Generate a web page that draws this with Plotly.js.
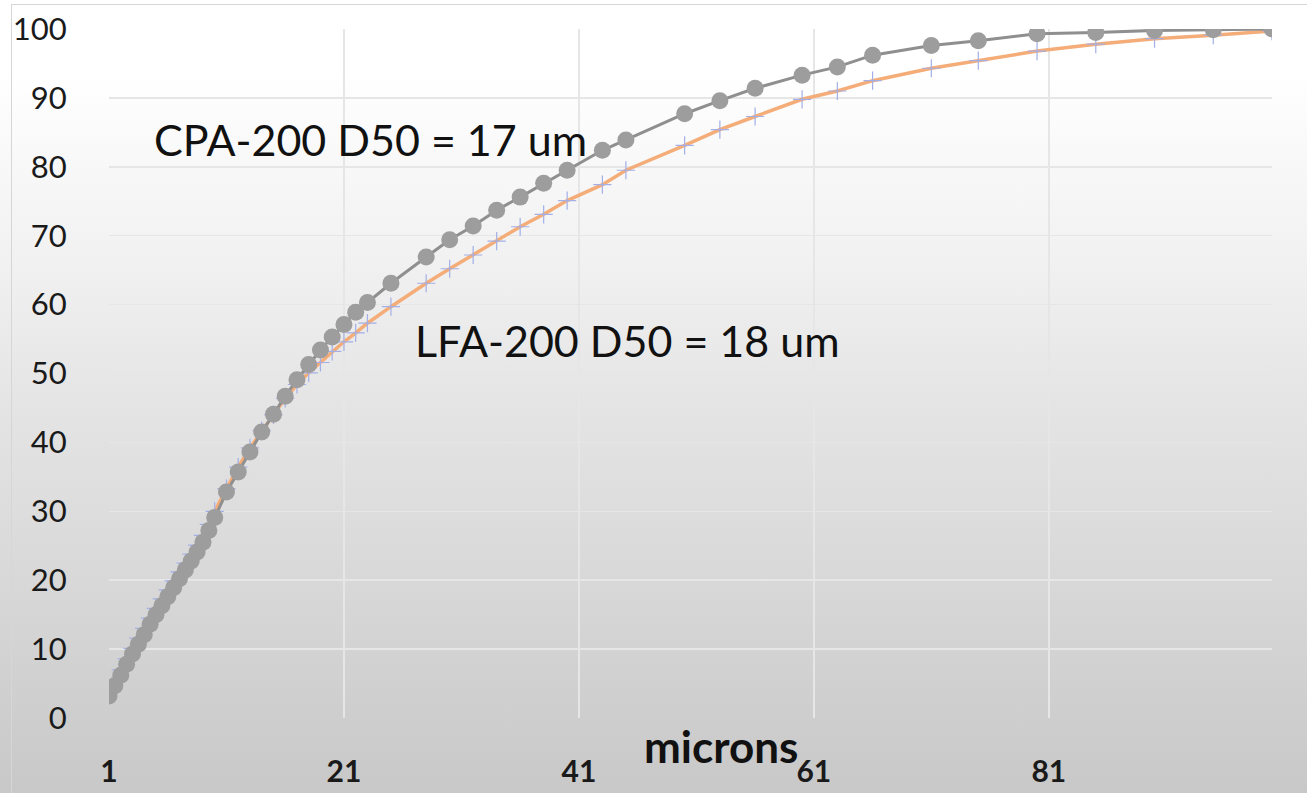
<!DOCTYPE html>
<html>
<head>
<meta charset="utf-8">
<script src="https://cdn.plot.ly/plotly-3.0.1.min.js"></script>
<style>
  html, body { margin: 0; padding: 0; }
  body {
    width: 1307px; height: 793px; overflow: hidden; position: relative;
    background: linear-gradient(to bottom, #ffffff 0%, #ffffff 9%, #f1f1f1 33%, #e5e5e5 50%, #d7d7d7 75%, #c8c8c8 100%);
  }
  #chart { position: absolute; left: 0; top: 0; width: 1307px; height: 793px; }
  #frame {
    position: absolute; left: 11px; top: 4px; right: -2px; bottom: -2px;
    border-left: 1px solid #d6d6d6; border-top: 1px solid #d6d6d6;
    pointer-events: none;
  }
</style>
</head>
<body>
<div id="chart"></div>
<div id="frame"></div>
<script>
// Particle size (microns) at which the cumulative percentage was measured
const sizes = [1, 1.5, 2, 2.5, 3, 3.5, 4, 4.5, 5, 5.5, 6, 6.5, 7, 7.5, 8, 8.5, 9, 9.5, 10,
  11, 12, 13, 14, 15, 16, 17, 18, 19, 20, 21, 22, 23,
  25, 28, 30, 32, 34, 36, 38, 40, 43, 45, 50, 53, 56, 60, 63, 66, 71, 75, 80, 85, 90, 95, 100];

// Cumulative % passing, CPA-200
const cpa200 = [3.2, 4.7, 6.2, 7.8, 9.3, 10.7, 12.1, 13.6, 15.0, 16.3, 17.6, 18.9, 20.2, 21.5, 22.8, 24.1, 25.5, 27.2, 29.1,
  32.8, 35.7, 38.6, 41.5, 44.1, 46.7, 49.1, 51.3, 53.4, 55.3, 57.1, 58.9, 60.3,
  63.1, 66.9, 69.4, 71.4, 73.7, 75.6, 77.6, 79.5, 82.4, 83.9, 87.7, 89.6, 91.4, 93.3, 94.5, 96.2, 97.6, 98.3, 99.3, 99.5, 99.8, 99.9, 100];

// Cumulative % passing, LFA-200
const lfa200 = [3.8, 5.4, 7.0, 8.6, 10.1, 11.6, 13.0, 14.5, 15.9, 17.3, 18.6, 19.9, 21.2, 22.5, 23.8, 25.1, 26.5, 28.1, 30.0,
  33.3, 36.4, 39.2, 41.7, 44.0, 46.4, 48.4, 50.1, 51.6, 53.2, 54.6, 55.9, 57.3,
  59.7, 63.1, 65.2, 67.2, 69.2, 71.3, 73.1, 75.1, 77.4, 79.5, 83.1, 85.4, 87.3, 89.8, 91.0, 92.5, 94.3, 95.4, 96.8, 97.8, 98.6, 99.1, 99.7];

const xTicks = [1, 21, 41, 61, 81];
const yTicks = [0, 10, 20, 30, 40, 50, 60, 70, 80, 90, 100];

const labelFont = 'Lato, "Open Sans", sans-serif';

const traces = [
  {
    name: 'LFA-200', x: sizes, y: lfa200, type: 'scatter', mode: 'lines+markers',
    line: { color: '#f4ac78', width: 3.5 },
    marker: { symbol: 'cross-thin', size: 13, line: { color: '#a3afe6', width: 1.2 } },
    hoverinfo: 'x+y'
  },
  {
    name: 'CPA-200', x: sizes, y: cpa200, type: 'scatter', mode: 'lines+markers',
    line: { color: '#8f8f8f', width: 3 },
    marker: { symbol: 'circle', size: 17, color: '#9d9d9d' },
    hoverinfo: 'x+y'
  }
];

const layout = {
  width: 1307, height: 793,
  margin: { l: 108.5, r: 34.5, t: 29, b: 75, pad: 0 },
  paper_bgcolor: 'rgba(0,0,0,0)',
  plot_bgcolor: 'rgba(0,0,0,0)',
  showlegend: false,
  font: { family: labelFont, color: '#1a1a1a' },
  xaxis: {
    range: [1, 100], tickvals: xTicks, ticktext: xTicks.map(String),
    showgrid: true, gridcolor: '#e6e6e6', gridwidth: 1.5,
    zeroline: false, showline: false,
    ticks: 'outside', ticklen: 27, tickcolor: 'rgba(0,0,0,0)',
    tickfont: { family: labelFont, size: 30, weight: 'bold', color: '#1a1a1a' }
  },
  yaxis: {
    range: [0, 100], tickvals: yTicks,
    showgrid: true, gridcolor: '#e6e6e6', gridwidth: 1.5,
    zeroline: false, showline: false,
    ticks: 'outside', ticklen: 35, tickcolor: 'rgba(0,0,0,0)',
    tickfont: { family: labelFont, size: 31, color: '#1a1a1a' }
  },
  annotations: [
    {
      text: 'CPA-200 D50 = 17 um', xref: 'paper', yref: 'paper',
      x: (370 - 108.5) / 1164, y: (718 - 140) / 689, xanchor: 'center', yanchor: 'middle',
      showarrow: false, font: { family: labelFont, size: 43, color: '#111111' }
    },
    {
      text: 'LFA-200 D50 = 18 um', xref: 'paper', yref: 'paper',
      x: (627 - 108.5) / 1164, y: (718 - 340) / 689, xanchor: 'center', yanchor: 'middle',
      showarrow: false, font: { family: labelFont, size: 43, color: '#111111' }
    },
    {
      text: 'microns', xref: 'paper', yref: 'paper',
      x: (721 - 108.5) / 1164, y: (718 - 746) / 689, xanchor: 'center', yanchor: 'middle',
      showarrow: false, font: { family: labelFont, size: 44, weight: 'bold', color: '#111111' }
    }
  ]
};

Plotly.newPlot('chart', traces, layout, { displayModeBar: false, staticPlot: true });
</script>
</body>
</html>
